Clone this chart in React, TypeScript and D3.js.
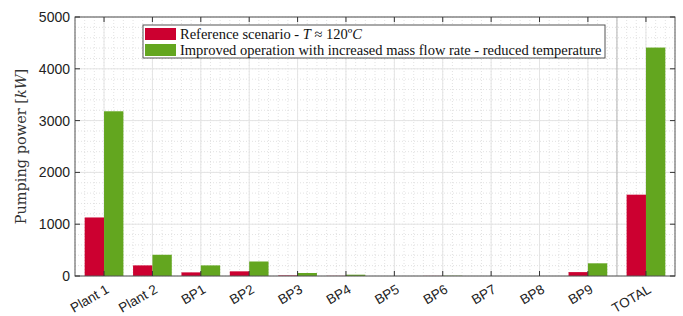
import * as d3 from "d3";

const categories = ["Plant 1", "Plant 2", "BP1", "BP2", "BP3", "BP4", "BP5", "BP6", "BP7", "BP8", "BP9", "TOTAL"];
// TOTAL sits a little apart from the others
const xPositions = [1, 2, 3, 4, 5, 6, 7, 8, 9, 10, 11, 12.2];
const referenceValues = [1130, 205, 70, 90, 10, 3, 0, 2, 0, 0, 75, 1570];
const improvedValues = [3180, 410, 205, 280, 58, 25, 0, 5, 0, 0, 245, 4410];
const yTicks = [0, 1000, 2000, 3000, 4000, 5000];
const seriesNames = ["Reference scenario - ", "Improved operation with increased mass flow rate - reduced temperature"];

const W = 683;
const H = 316;
const left = 75;
const right = 675;
const top = 17;
const bottom = 276;
const red = "#cc0030";
const green = "#63a61f";

export default function App() {
  const x = d3.scaleLinear().domain([0.4, 12.8]).range([left, right]);
  const y = d3.scaleLinear().domain([0, 5000]).range([bottom, top]);
  const bw = x(0.4) - x(0);

  const minorX = d3.range(0.4, 12.8001, 0.2);
  const minorY = d3.range(0, 5001, 200);

  return (
    <svg width={W} height={H} style={{ position: "absolute", left: 0, top: 0, background: "#fff" }}>
      {/* minor grid */}
      {minorX.map((v, i) => (
        <line key={"mx" + i} x1={x(v)} x2={x(v)} y1={top} y2={bottom} stroke="#cfcfcf" strokeWidth={0.6} strokeDasharray="1,2" />
      ))}
      {minorY.map((v, i) => (
        <line key={"my" + i} x1={left} x2={right} y1={y(v)} y2={y(v)} stroke="#cfcfcf" strokeWidth={0.6} strokeDasharray="1,2" />
      ))}
      {/* major grid */}
      {xPositions.map((v, i) => (
        <line key={"gx" + i} x1={x(v)} x2={x(v)} y1={top} y2={bottom} stroke="#e4e4e4" strokeWidth={1} />
      ))}
      {yTicks.map((v) => (
        <line key={"gy" + v} x1={left} x2={right} y1={y(v)} y2={y(v)} stroke="#e4e4e4" strokeWidth={1} />
      ))}
      {/* separator before TOTAL */}
      <line x1={x(11.6)} x2={x(11.6)} y1={top} y2={bottom} stroke="#bdbdbd" strokeWidth={1.2} />

      {/* bars */}
      {xPositions.map((p, i) => (
        <g key={"b" + i}>
          <rect x={x(p) - bw} y={y(referenceValues[i])} width={bw} height={bottom - y(referenceValues[i])} fill={red} />
          <rect x={x(p)} y={y(improvedValues[i])} width={bw} height={bottom - y(improvedValues[i])} fill={green} />
        </g>
      ))}

      {/* axes box */}
      <rect x={left} y={top} width={right - left} height={bottom - top} fill="none" stroke="#555" strokeWidth={1} />
      {xPositions.map((p, i) => (
        <g key={"t" + i}>
          <line x1={x(p)} x2={x(p)} y1={bottom} y2={bottom - 5} stroke="#333" />
          <line x1={x(p)} x2={x(p)} y1={top} y2={top + 5} stroke="#333" />
        </g>
      ))}
      {yTicks.map((v) => (
        <g key={"yt" + v}>
          <line x1={left} x2={left + 5} y1={y(v)} y2={y(v)} stroke="#333" />
          <line x1={right} x2={right - 5} y1={y(v)} y2={y(v)} stroke="#333" />
          <text x={left - 5} y={y(v)} dy="0.35em" textAnchor="end" fontFamily="Liberation Sans, Arial, sans-serif" fontSize={14} fill="#222">
            {v}
          </text>
        </g>
      ))}
      {categories.map((c, i) => (
        <text
          key={"xl" + i}
          transform={`translate(${x(xPositions[i]) + 6},${bottom + 16}) rotate(-30)`}
          textAnchor="end"
          fontFamily="Liberation Sans, Arial, sans-serif"
          fontSize={13.5}
          fill="#222"
        >
          {c}
        </text>
      ))}

      {/* y axis label */}
      <text
        transform={`translate(26,${(top + bottom) / 2}) rotate(-90)`}
        textAnchor="middle"
        fontFamily="DejaVu Serif, serif"
        fontSize={14.5}
        fill="#333"
      >
        Pumping power [<tspan fontStyle="italic">kW</tspan>]
      </text>

      {/* legend */}
      <g>
        <rect x={143} y={25} width={462} height={33} fill="#fff" stroke="#555" strokeWidth={1} />
        <rect x={145} y={28} width={31} height={12} fill={red} />
        <rect x={145} y={44} width={31} height={12} fill={green} />
        <text x={180} y={38.5} fontFamily="Liberation Serif, serif" fontSize={14.5} fill="#111">
          {seriesNames[0]}
          <tspan fontStyle="italic">T</tspan> ≈ 120º<tspan fontStyle="italic">C</tspan>
        </text>
        <text x={180} y={55} fontFamily="Liberation Serif, serif" fontSize={14.5} fill="#111">
          {seriesNames[1]}
        </text>
      </g>
    </svg>
  );
}
